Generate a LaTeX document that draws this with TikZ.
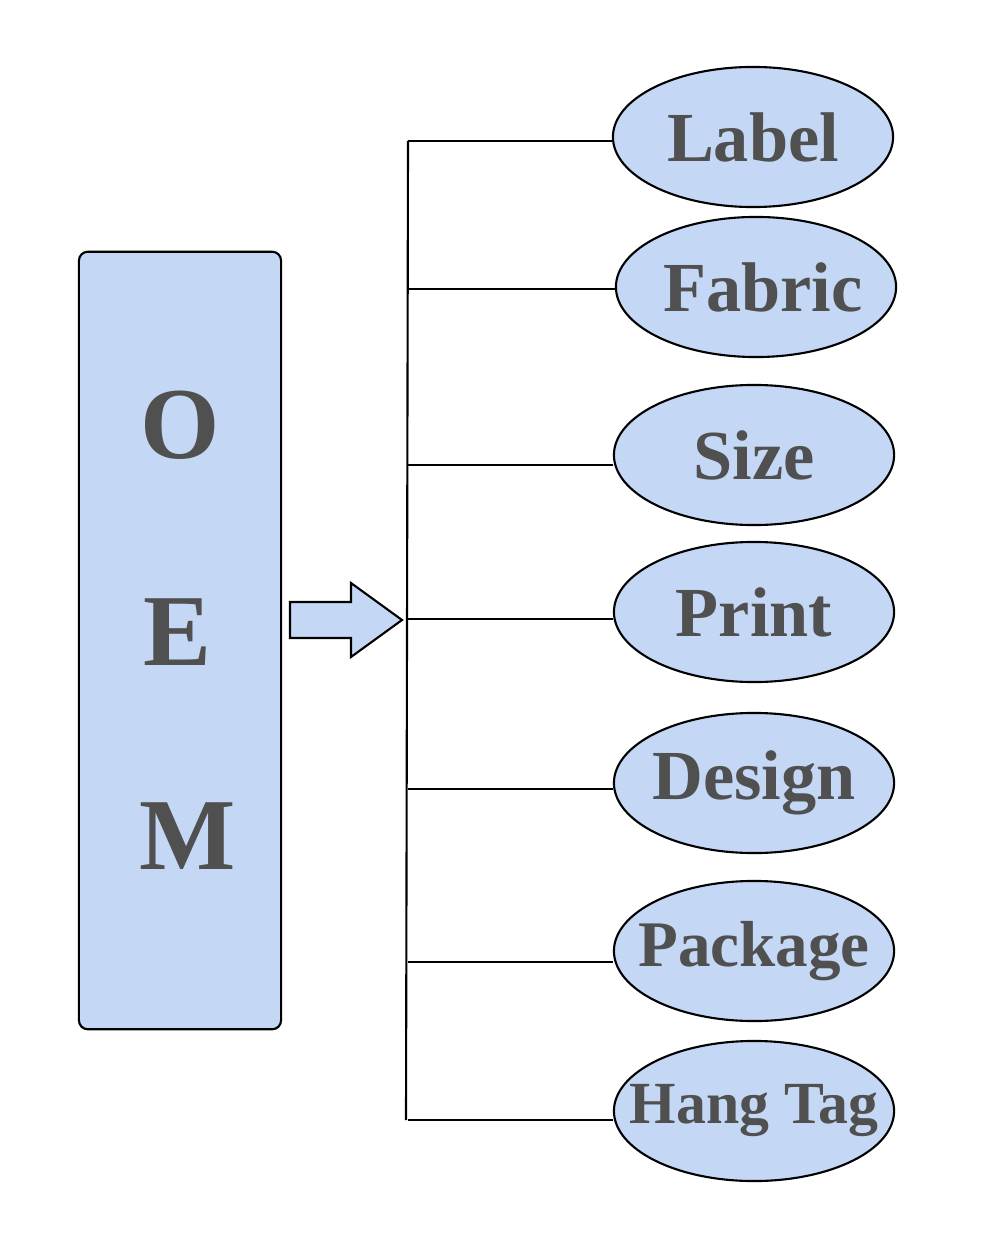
\documentclass[tikz,border=0pt]{standalone}
\usepackage{fontspec}
\setmainfont{Liberation Serif}
\usepackage{xcolor}
\definecolor{boxBlue}{HTML}{C4D8F6}
\definecolor{textGray}{HTML}{505050}
\usetikzlibrary{shapes.geometric, positioning, calc}
% keep ellipse size fixed, whatever the text width
\newcommand{\itemtext}[1]{\makebox[0pt][c]{#1}}
\tikzset{
    % Tall box on the left
    oem box/.style={
        rectangle,
        rounded corners=2.5pt,
        draw=black,
        line width=0.6pt,
        fill=boxBlue,
        minimum width=2.02cm,
        minimum height=7.77cm,
    },
    % Big letters in the box
    oem letter/.style={
        font=\fontsize{29}{32}\selectfont\bfseries,
        text=textGray,
        inner sep=0pt,
    },
    % Ellipses on the right
    item/.style={
        ellipse,
        draw=black,
        line width=0.6pt,
        fill=boxBlue,
        minimum width=2.8cm,
        minimum height=1.4cm,
        inner sep=0pt,
        text=textGray,
        font=\fontsize{20}{22}\selectfont\bfseries,
    },
    % Connector lines
    branch/.style={
        draw=black,
        line width=0.6pt,
    },
    % Block arrow
    block arrow/.style={
        draw=black,
        line width=0.6pt,
        fill=boxBlue,
        line join=miter,
    },
}
\begin{document}
\begin{tikzpicture}[x=0.01cm, y=-0.01cm]
    \useasboundingbox (0,0) rectangle (1000,1252);

    % left box and letters
    \node (oem) [oem box] at (180,640.5) {};
    \node (o) [oem letter] at (180,425) {O};
    \node (e) [oem letter] at (178,632) {E};
    \node (m) [oem letter] at (188,836) {M};

    % arrow
    \draw [block arrow] (290,602) -- (351,602) -- (351,583) -- (402,620)
        -- (351,657) -- (351,638) -- (290,638) -- cycle;

    % items
    \node (label) [item] at (753,137) {\itemtext{Label}};
    \node (fabric) [item] at (756,287) {\itemtext{\hspace{0.14cm}Fabric}};
    \node (size) [item] at (754,455) {\itemtext{Size}};
    \node (print) [item] at (754,612) {\itemtext{Print}};
    \node (design) [item] at (754,783) {\itemtext{Design}};
    \node (package) [item, font=\fontsize{18.5}{22}\selectfont\bfseries] at (754,951) {\itemtext{Package}};
    \node (hangtag) [item, font=\fontsize{17}{20}\selectfont\bfseries] at (754,1111) {\itemtext{Hang Tag}};

    % trunk
    \coordinate (trunktop) at (408,141);
    \coordinate (trunkbot) at (406,1120);
    \draw [branch] (trunktop) -- (trunkbot);

    % branches (lines sit a little below the ellipse centres)
    \foreach \n/\dy in {label/4, fabric/2, size/10, print/7, design/6, package/11, hangtag/9}
        \draw [branch] ([yshift=-\dy*0.01cm]\n.west) -- ([yshift=-\dy*0.01cm]\n.west -| trunktop);
\end{tikzpicture}
\end{document}
